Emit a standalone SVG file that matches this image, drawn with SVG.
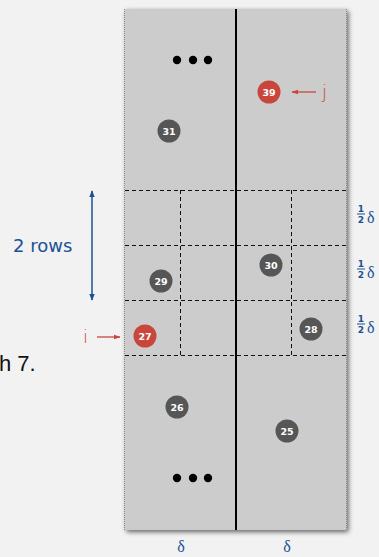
<svg xmlns="http://www.w3.org/2000/svg" width="379" height="557" viewBox="0 0 379 557">
<defs>
<style>
.pt circle{stroke:none}
.g{fill:#565656}
.r{fill:#c9463d}
.pt text{font-family:"DejaVu Sans",sans-serif;font-size:9.5px;font-weight:bold;fill:#fff;text-anchor:middle}
.dash{stroke:#111;stroke-width:1;stroke-dasharray:4,3;fill:none}
.blue{fill:#1b5192;font-family:"DejaVu Sans",sans-serif}
.red{fill:#c9463d;font-family:"DejaVu Sans",sans-serif}
</style>
<filter id="sh" x="-10%" y="-10%" width="130%" height="130%">
<feGaussianBlur in="SourceAlpha" stdDeviation="2.5"/>
<feOffset dx="2" dy="2"/>
<feComponentTransfer><feFuncA type="linear" slope="0.6"/></feComponentTransfer>
<feMerge><feMergeNode/><feMergeNode in="SourceGraphic"/></feMerge>
</filter>
<marker id="ab" viewBox="0 0 10 10" refX="9" refY="5" markerWidth="7" markerHeight="7" orient="auto-start-reverse" markerUnits="userSpaceOnUse">
<path d="M0,1 L10,5 L0,9 z" fill="#1b5192"/>
</marker>
<marker id="ar" viewBox="0 0 10 10" refX="9" refY="5" markerWidth="7" markerHeight="7" orient="auto" markerUnits="userSpaceOnUse">
<path d="M0,1.5 L10,5 L0,8.5 z" fill="#c9463d"/>
</marker>
</defs>
<rect width="379" height="557" fill="#f2f2f2"/>
<text x="-1" y="371" font-family="Liberation Sans,sans-serif" font-size="22" fill="#111">h 7.</text>
<g id="panel">
<rect x="124.5" y="9" width="222" height="521" fill="#cccccc" filter="url(#sh)"/>
<line x1="124.5" y1="9" x2="124.5" y2="530" stroke="#888" stroke-width="1" stroke-dasharray="1,1"/>
<line x1="346.5" y1="9" x2="346.5" y2="530" stroke="#888" stroke-width="1" stroke-dasharray="1,1"/>
<line x1="236" y1="9" x2="236" y2="530" stroke="#000" stroke-width="2"/>
</g>
<g id="grid">
<path class="dash" d="M125,190.5H346M125,245.5H346M125,300.5H346M125,355.5H346"/>
<path class="dash" d="M180.5,190V355M291.5,190V355"/>
</g>
<g id="dots" fill="#000">
<circle cx="177" cy="60" r="4.2"/><circle cx="193" cy="60" r="4.2"/><circle cx="208" cy="60" r="4.2"/>
<circle cx="177" cy="478" r="4.2"/><circle cx="193" cy="478" r="4.2"/><circle cx="208" cy="478" r="4.2"/>
</g>
<g id="n39" class="pt"><circle class="r" cx="269" cy="92" r="11.5"/><text x="269" y="95.5">39</text></g>
<g id="n31" class="pt"><circle class="g" cx="169" cy="131" r="11.5"/><text x="169" y="134.5">31</text></g>
<g id="n30" class="pt"><circle class="g" cx="271" cy="265" r="11.5"/><text x="271" y="268.5">30</text></g>
<g id="n29" class="pt"><circle class="g" cx="161" cy="281" r="11.5"/><text x="161" y="284.5">29</text></g>
<g id="n28" class="pt"><circle class="g" cx="311" cy="329" r="11.5"/><text x="311" y="332.5">28</text></g>
<g id="n27" class="pt"><circle class="r" cx="145" cy="336" r="11.5"/><text x="145" y="339.5">27</text></g>
<g id="n26" class="pt"><circle class="g" cx="177" cy="407" r="11.5"/><text x="177" y="410.5">26</text></g>
<g id="n25" class="pt"><circle class="g" cx="287" cy="431" r="11.5"/><text x="287" y="434.5">25</text></g>
<g id="connectors">
<line x1="92" y1="191" x2="92" y2="300" stroke="#1b5192" stroke-width="1.5" marker-start="url(#ab)" marker-end="url(#ab)"/>
<line x1="97" y1="337" x2="120" y2="337" stroke="#c9463d" stroke-width="1.3" marker-end="url(#ar)"/>
<line x1="316" y1="92" x2="292" y2="92" stroke="#c9463d" stroke-width="1.3" marker-end="url(#ar)"/>
</g>
<g id="labels">
<text class="blue" x="13" y="252" font-size="18">2 rows</text>
<text class="red" x="83" y="343" font-size="18" font-weight="300">i</text>
<text class="red" x="322" y="98" font-size="18" font-weight="300">j</text>
<g font-size="16" font-family="Liberation Serif,serif" fill="#1b5192">
<text x="181" y="552" text-anchor="middle">δ</text>
<text x="287" y="552" text-anchor="middle">δ</text>
</g>
<g id="halves">
<g transform="translate(356,212)">
<text class="blue" x="5" y="0" font-size="9" font-weight="bold" text-anchor="middle">1</text>
<line x1="1" y1="2" x2="9" y2="2" stroke="#1b5192" stroke-width="1"/>
<text class="blue" x="5" y="11" font-size="9" font-weight="bold" text-anchor="middle">2</text>
<text x="11" y="11" font-size="16" font-family="Liberation Serif,serif" fill="#1b5192">δ</text>
</g>
<g transform="translate(356,267)">
<text class="blue" x="5" y="0" font-size="9" font-weight="bold" text-anchor="middle">1</text>
<line x1="1" y1="2" x2="9" y2="2" stroke="#1b5192" stroke-width="1"/>
<text class="blue" x="5" y="11" font-size="9" font-weight="bold" text-anchor="middle">2</text>
<text x="11" y="11" font-size="16" font-family="Liberation Serif,serif" fill="#1b5192">δ</text>
</g>
<g transform="translate(356,322)">
<text class="blue" x="5" y="0" font-size="9" font-weight="bold" text-anchor="middle">1</text>
<line x1="1" y1="2" x2="9" y2="2" stroke="#1b5192" stroke-width="1"/>
<text class="blue" x="5" y="11" font-size="9" font-weight="bold" text-anchor="middle">2</text>
<text x="11" y="11" font-size="16" font-family="Liberation Serif,serif" fill="#1b5192">δ</text>
</g>
</g>
</g>
</svg>
